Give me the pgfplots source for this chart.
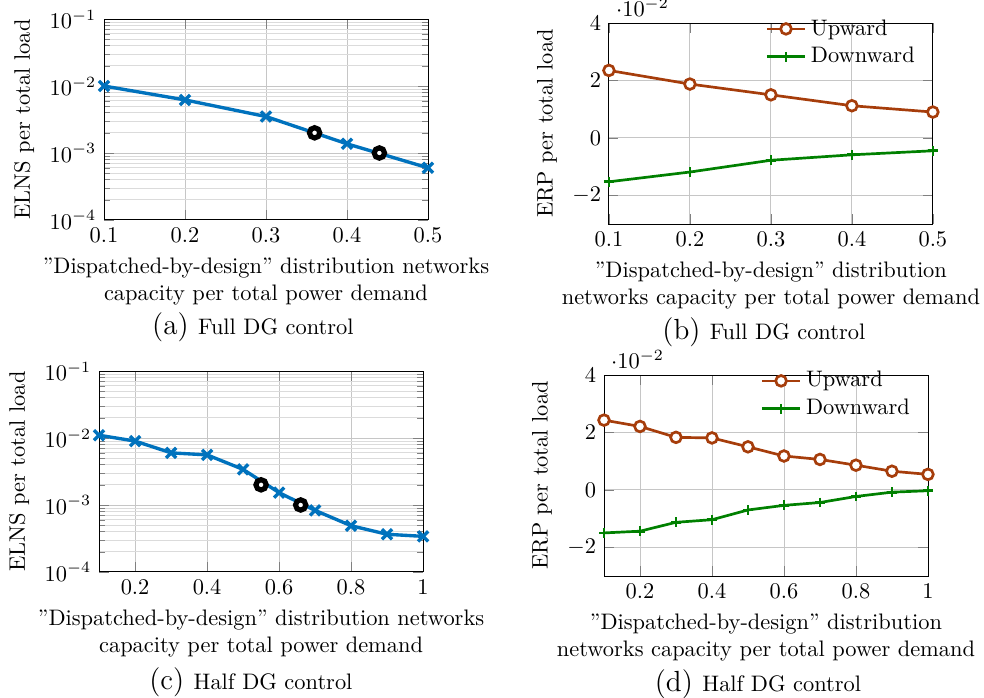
\documentclass[border=0pt]{standalone}
\usepackage{pgfplots}
\pgfplotsset{compat=1.18}
\definecolor{elnsblue}{RGB}{0,114,189}
\definecolor{upcol}{RGB}{166,61,11}
\definecolor{downcol}{RGB}{0,128,0}
\pgfplotsset{
  mybase/.style={
    scale only axis, width=144.5pt, height=89.6pt, anchor=south west,
    tick label style={font=\fontsize{10}{12}\selectfont},
    label style={font=\fontsize{10}{12}\selectfont},
    xlabel style={align=center},
    major grid style={gray!45},
    minor grid style={gray!28},
  },
  myelns/.style={mybase, ymin=1e-4, ymax=1e-1,
    ytick={1e-4,1e-3,1e-2,1e-1}, grid=both,
    ylabel={ELNS per total load}},
  myerp/.style={mybase, ymin=-0.03, ymax=0.04, ytick={-0.02,0,0.02,0.04},
    grid=major, ylabel={ERP per total load},
    legend style={draw=none, fill=none, at={(0.98,1.065)}, anchor=north east,
      font=\fontsize{10}{12}\selectfont}, legend cell align=left},
}
\tikzset{
  bline/.style={elnsblue, line width=1.5pt, mark=x, mark size=3.2pt,
    mark options={line width=1.5pt}},
  rings/.style={only marks, mark=*, mark size=2.3pt, black,
    mark options={fill=white, draw=black, line width=2.3pt}},
  upl/.style={upcol, line width=1.2pt, mark=*, mark size=2.4pt,
    mark options={fill=white, draw=upcol, line width=1.2pt}},
  dnl/.style={downcol, line width=1.2pt, mark=+, mark size=2.2pt,
    mark options={line width=1.2pt}},
}
\newcommand{\xla}{”Dispatched-by-design” distribution networks\\capacity per total power demand}
\newcommand{\xlb}{”Dispatched-by-design” distribution\\networks capacity per total power demand}
\begin{document}
\begin{tikzpicture}
\useasboundingbox (0,0) rectangle (438.9pt,311.3pt);
% (a)
\begin{axis}[ymode=log, myelns, at={(46.4pt,213.2pt)}, xmin=0.1, xmax=0.5,
  xtick={0.1,0.2,0.3,0.4,0.5}, xlabel={\xla}]
\addplot[bline] coordinates {(0.1,1.0e-2) (0.2,6.2e-3) (0.3,3.5e-3) (0.4,1.37e-3) (0.5,6.0e-4)};
\addplot[rings] coordinates {(0.36,2e-3) (0.44,1e-3)};
\end{axis}
% (b)
\begin{axis}[myerp, at={(271.6pt,211.4pt)}, xmin=0.1, xmax=0.5,
  xtick={0.1,0.2,0.3,0.4,0.5}, xlabel={\xlb}]
\addplot[upl] coordinates {(0.1,0.0235) (0.2,0.01875) (0.3,0.0150) (0.4,0.0112) (0.5,0.0090)};
\addlegendentry{Upward}
\addplot[dnl] coordinates {(0.1,-0.0153) (0.2,-0.0119) (0.3,-0.0078) (0.4,-0.0059) (0.5,-0.0045)};
\addlegendentry{Downward}
\end{axis}
% (c)
\begin{axis}[ymode=log, myelns, at={(44.2pt,56.2pt)}, xmin=0.1, xmax=1,
  xtick={0.2,0.4,0.6,0.8,1}, xlabel={\xla}]
\addplot[bline] coordinates {(0.1,1.1e-2) (0.2,9.0e-3) (0.3,6.0e-3) (0.4,5.6e-3) (0.5,3.4e-3) (0.6,1.53e-3) (0.7,8.3e-4) (0.8,4.9e-4) (0.9,3.65e-4) (1.0,3.4e-4)};
\addplot[rings] coordinates {(0.55,2e-3) (0.66,1e-3)};
\end{axis}
% (d)
\begin{axis}[myerp, at={(269.4pt,54.4pt)}, xmin=0.1, xmax=1,
  xtick={0.2,0.4,0.6,0.8,1}, xlabel={\xlb}]
\addplot[upl] coordinates {(0.1,0.0243) (0.2,0.0221) (0.3,0.0183) (0.4,0.0181) (0.5,0.0150) (0.6,0.0118) (0.7,0.0106) (0.8,0.0086) (0.9,0.0065) (1.0,0.0054)};
\addlegendentry{Upward}
\addplot[dnl] coordinates {(0.1,-0.0150) (0.2,-0.0144) (0.3,-0.0113) (0.4,-0.0104) (0.5,-0.0070) (0.6,-0.0054) (0.7,-0.0044) (0.8,-0.0023) (0.9,-0.0008) (1.0,-0.0003)};
\addlegendentry{Downward}
\end{axis}
% captions
\node[anchor=base] at (112.8pt,161.9pt) {\fontsize{13}{15}\selectfont (a) \fontsize{10}{12}\selectfont Full DG control};
\node[anchor=base] at (340.7pt,159.7pt) {\fontsize{13}{15}\selectfont (b) \fontsize{10}{12}\selectfont Full DG control};
\node[anchor=base] at (111.9pt,3.6pt) {\fontsize{13}{15}\selectfont (c) \fontsize{10}{12}\selectfont Half DG control};
\node[anchor=base] at (338.1pt,2.8pt) {\fontsize{13}{15}\selectfont (d) \fontsize{10}{12}\selectfont Half DG control};
\end{tikzpicture}
\end{document}
